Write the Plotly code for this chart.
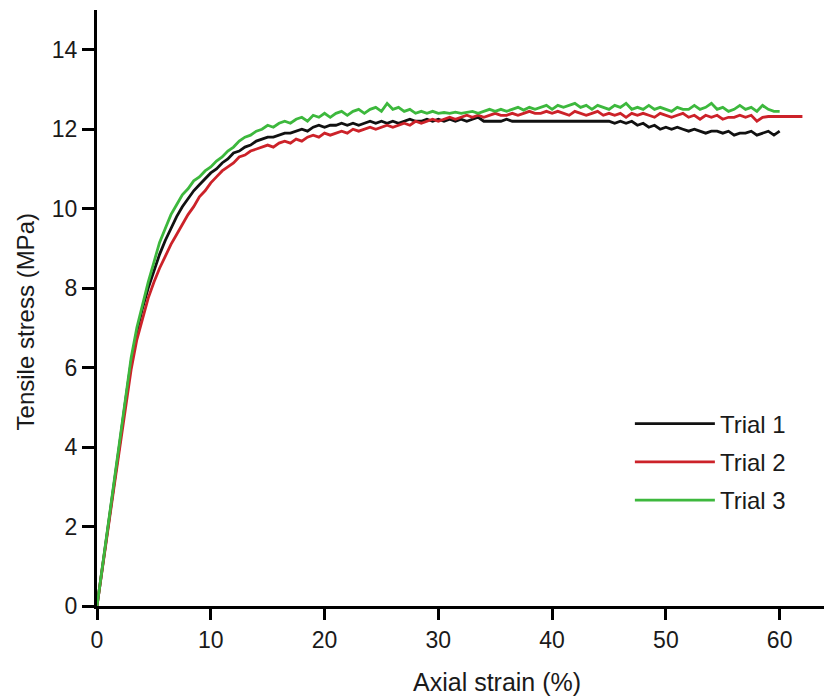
import plotly.graph_objects as go

# Axial strain (%) sample positions
STRAIN = [0, 0.5, 1, 1.5, 2, 2.5, 3, 3.5, 4, 4.5, 5, 5.5, 6, 6.5, 7, 7.5, 8, 8.5, 9, 9.5,
          10, 10.5, 11, 11.5, 12, 12.5, 13, 13.5, 14, 14.5, 15, 15.5, 16, 16.5, 17, 17.5, 18, 18.5, 19, 19.5,
          20, 20.5, 21, 21.5, 22, 22.5, 23, 23.5, 24, 24.5, 25, 25.5, 26, 26.5, 27, 27.5, 28, 28.5, 29, 29.5,
          30, 30.5, 31, 31.5, 32, 32.5, 33, 33.5, 34, 34.5, 35, 35.5, 36, 36.5, 37, 37.5, 38, 38.5, 39, 39.5,
          40, 40.5, 41, 41.5, 42, 42.5, 43, 43.5, 44, 44.5, 45, 45.5, 46, 46.5, 47, 47.5, 48, 48.5, 49, 49.5,
          50, 50.5, 51, 51.5, 52, 52.5, 53, 53.5, 54, 54.5, 55, 55.5, 56, 56.5, 57, 57.5, 58, 58.5, 59, 59.5,
          60, 60.5, 61, 61.5, 62]

# Tensile stress (MPa)
TRIAL1 = [0, 1.0, 2.05, 3.1, 4.1, 5.15, 6.15, 6.9, 7.5, 8.0, 8.45, 8.85, 9.2, 9.5, 9.8, 10.05, 10.25, 10.45, 10.6, 10.75,
          10.9, 11.0, 11.15, 11.25, 11.4, 11.45, 11.55, 11.6, 11.7, 11.75, 11.8, 11.8, 11.85, 11.9, 11.9, 11.95, 12.0, 11.95, 12.05, 12.1,
          12.05, 12.1, 12.1, 12.15, 12.1, 12.15, 12.1, 12.15, 12.2, 12.15, 12.2, 12.15, 12.2, 12.15, 12.2, 12.25, 12.2, 12.2, 12.25, 12.2,
          12.25, 12.2, 12.25, 12.2, 12.25, 12.2, 12.25, 12.3, 12.2, 12.2, 12.2, 12.2, 12.25, 12.2, 12.2, 12.2, 12.2, 12.2, 12.2, 12.2,
          12.2, 12.2, 12.2, 12.2, 12.2, 12.2, 12.2, 12.2, 12.2, 12.2, 12.2, 12.15, 12.2, 12.15, 12.2, 12.1, 12.15, 12.05, 12.1, 12.0,
          12.05, 12.0, 12.05, 12.0, 11.95, 12.0, 11.95, 11.9, 11.95, 11.95, 11.9, 11.95, 11.85, 11.9, 11.9, 11.95, 11.85, 11.9, 11.95, 11.85,
          11.95]

TRIAL2 = [0, 0.95, 2.0, 3.0, 4.0, 5.0, 5.95, 6.7, 7.25, 7.75, 8.15, 8.5, 8.8, 9.1, 9.35, 9.6, 9.85, 10.05, 10.3, 10.45,
          10.65, 10.8, 10.95, 11.05, 11.15, 11.3, 11.35, 11.45, 11.5, 11.55, 11.6, 11.55, 11.65, 11.7, 11.65, 11.75, 11.7, 11.8, 11.85, 11.8,
          11.9, 11.85, 11.9, 11.95, 11.9, 12.0, 11.95, 12.0, 12.05, 12.0, 12.05, 12.1, 12.05, 12.1, 12.15, 12.1, 12.2, 12.15, 12.2, 12.25,
          12.2, 12.25, 12.3, 12.25, 12.3, 12.35, 12.3, 12.35, 12.3, 12.35, 12.4, 12.35, 12.35, 12.4, 12.35, 12.4, 12.45, 12.4, 12.4, 12.45,
          12.4, 12.45, 12.4, 12.35, 12.45, 12.4, 12.35, 12.4, 12.45, 12.35, 12.4, 12.35, 12.4, 12.3, 12.4, 12.35, 12.4, 12.35, 12.3, 12.4,
          12.35, 12.3, 12.35, 12.4, 12.3, 12.35, 12.25, 12.35, 12.3, 12.35, 12.25, 12.3, 12.3, 12.35, 12.3, 12.35, 12.2, 12.3, 12.32, 12.32,
          12.32, 12.32, 12.32, 12.32, 12.32]

TRIAL3 = [0, 1.05, 2.1, 3.15, 4.2, 5.25, 6.25, 7.0, 7.6, 8.15, 8.65, 9.15, 9.5, 9.85, 10.1, 10.35, 10.5, 10.7, 10.8, 10.95,
          11.05, 11.2, 11.3, 11.45, 11.55, 11.7, 11.8, 11.85, 11.95, 12.0, 12.1, 12.05, 12.15, 12.2, 12.15, 12.25, 12.3, 12.2, 12.35, 12.3,
          12.4, 12.3, 12.4, 12.45, 12.35, 12.45, 12.5, 12.4, 12.5, 12.55, 12.45, 12.65, 12.5, 12.55, 12.45, 12.5, 12.4, 12.45, 12.4, 12.45,
          12.4, 12.42, 12.4, 12.43, 12.4, 12.42, 12.45, 12.4, 12.45, 12.5, 12.45, 12.5, 12.45, 12.5, 12.55, 12.48, 12.55, 12.5, 12.55, 12.6,
          12.5, 12.6, 12.55, 12.6, 12.65, 12.55, 12.6, 12.5, 12.6, 12.55, 12.5, 12.6, 12.55, 12.65, 12.5, 12.55, 12.5, 12.6, 12.5, 12.55,
          12.5, 12.45, 12.55, 12.5, 12.5, 12.6, 12.5, 12.55, 12.65, 12.5, 12.55, 12.45, 12.5, 12.6, 12.5, 12.55, 12.45, 12.6, 12.5, 12.45,
          12.45]

NAMES = ["Trial 1", "Trial 2", "Trial 3"]
COLORS = ["#111111", "#cc2229", "#3db83d"]
X_TICKS = [0, 10, 20, 30, 40, 50, 60]
Y_TICKS = [0, 2, 4, 6, 8, 10, 12, 14]

FONT = "Liberation Sans, Arial, sans-serif"

fig = go.Figure()
for name, ys, col in zip(NAMES, [TRIAL1, TRIAL2, TRIAL3], COLORS):
    fig.add_trace(go.Scatter(
        x=STRAIN[:len(ys)], y=ys, mode="lines", name=name,
        legendgroup=name,
        line=dict(color=col, width=2.8),
    ))

axis_common = dict(
    showline=True, linecolor="black", linewidth=3,
    ticks="outside", tickcolor="black", tickwidth=2.5,
    showgrid=False, zeroline=False,
    tickfont=dict(family=FONT, size=23, color="#1a1a1a"),
)

# page body adds an 8px margin, so the figure is 8px smaller on each axis
fig.update_layout(
    width=824, height=692,
    margin=dict(l=89, r=0, t=2, b=94),
    paper_bgcolor="white", plot_bgcolor="white",
    xaxis=dict(range=[0, 64.6], tickvals=X_TICKS, ticklen=11, **axis_common),
    yaxis=dict(range=[0, 15], tickvals=Y_TICKS, ticklen=12, **axis_common),
    showlegend=True,
    legend=dict(
        x=0.725, y=0.343, xanchor="left", yanchor="top",
        font=dict(family=FONT, size=24, color="#1a1a1a"),
        bgcolor="rgba(0,0,0,0)", tracegroupgap=4, itemwidth=80,
    ),
    annotations=[
        dict(text="Axial strain (%)", xref="paper", yref="paper",
             x=0.544, y=-0.128, xanchor="center", yanchor="middle", showarrow=False,
             font=dict(family=FONT, size=25, color="#1a1a1a")),
        dict(text="Tensile stress (MPa)", xref="paper", yref="paper",
             x=-0.097, y=0.477, xanchor="center", yanchor="middle", showarrow=False,
             textangle=-90, font=dict(family=FONT, size=24, color="#1a1a1a")),
    ],
)

fig.write_html("out.html")
